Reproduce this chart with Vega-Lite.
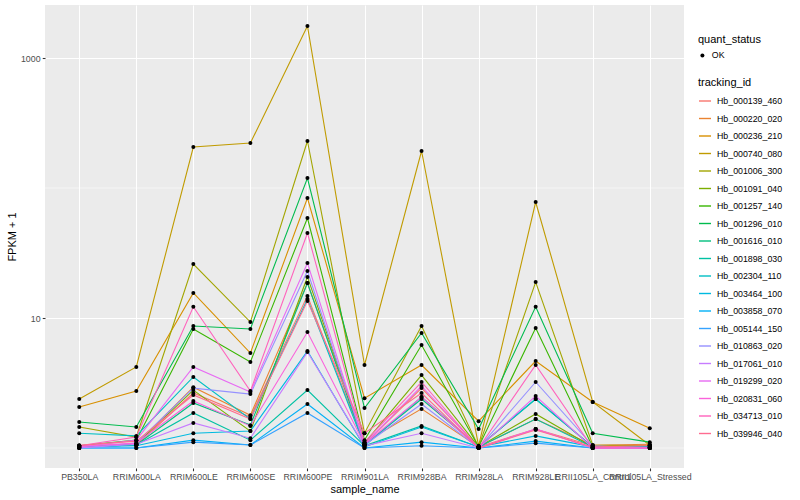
{
  "$schema": "https://vega.github.io/schema/vega-lite/v6.json",
  "width": 639,
  "height": 463,
  "autosize": {"type": "none"},
  "padding": {"left": 45, "top": 5, "right": 116, "bottom": 32},
  "background": "white",
  "datasets": {
    "expr": [
      {"s":"PB350LA","id":"Hb_000139_460","q":"OK","v":1.04},{"s":"RRIM600LA","id":"Hb_000139_460","q":"OK","v":1.05},{"s":"RRIM600LE","id":"Hb_000139_460","q":"OK","v":2.65},{"s":"RRIM600SE","id":"Hb_000139_460","q":"OK","v":1.73},{"s":"RRIM600PE","id":"Hb_000139_460","q":"OK","v":14.8},{"s":"RRIM901LA","id":"Hb_000139_460","q":"OK","v":1.07},{"s":"RRIM928BA","id":"Hb_000139_460","q":"OK","v":2.89},{"s":"RRIM928LA","id":"Hb_000139_460","q":"OK","v":1.02},{"s":"RRIM928LE","id":"Hb_000139_460","q":"OK","v":1.40},{"s":"RRII105LA_Control","id":"Hb_000139_460","q":"OK","v":1.04},{"s":"RRII105LA_Stressed","id":"Hb_000139_460","q":"OK","v":1.05},
      {"s":"PB350LA","id":"Hb_000220_020","q":"OK","v":1.04},{"s":"RRIM600LA","id":"Hb_000220_020","q":"OK","v":1.07},{"s":"RRIM600LE","id":"Hb_000220_020","q":"OK","v":2.94},{"s":"RRIM600SE","id":"Hb_000220_020","q":"OK","v":1.79},{"s":"RRIM600PE","id":"Hb_000220_020","q":"OK","v":18.6},{"s":"RRIM901LA","id":"Hb_000220_020","q":"OK","v":1.11},{"s":"RRIM928BA","id":"Hb_000220_020","q":"OK","v":2.00},{"s":"RRIM928LA","id":"Hb_000220_020","q":"OK","v":1.02},{"s":"RRIM928LE","id":"Hb_000220_020","q":"OK","v":1.67},{"s":"RRII105LA_Control","id":"Hb_000220_020","q":"OK","v":1.05},{"s":"RRII105LA_Stressed","id":"Hb_000220_020","q":"OK","v":1.07},
      {"s":"PB350LA","id":"Hb_000236_210","q":"OK","v":2.07},{"s":"RRIM600LA","id":"Hb_000236_210","q":"OK","v":2.74},{"s":"RRIM600LE","id":"Hb_000236_210","q":"OK","v":15.6},{"s":"RRIM600SE","id":"Hb_000236_210","q":"OK","v":5.38},{"s":"RRIM600PE","id":"Hb_000236_210","q":"OK","v":83.8},{"s":"RRIM901LA","id":"Hb_000236_210","q":"OK","v":2.42},{"s":"RRIM928BA","id":"Hb_000236_210","q":"OK","v":4.35},{"s":"RRIM928LA","id":"Hb_000236_210","q":"OK","v":1.61},{"s":"RRIM928LE","id":"Hb_000236_210","q":"OK","v":4.67},{"s":"RRII105LA_Control","id":"Hb_000236_210","q":"OK","v":2.26},{"s":"RRII105LA_Stressed","id":"Hb_000236_210","q":"OK","v":1.42},
      {"s":"PB350LA","id":"Hb_000740_080","q":"OK","v":2.38},{"s":"RRIM600LA","id":"Hb_000740_080","q":"OK","v":4.20},{"s":"RRIM600LE","id":"Hb_000740_080","q":"OK","v":206.7},{"s":"RRIM600SE","id":"Hb_000740_080","q":"OK","v":221.8},{"s":"RRIM600PE","id":"Hb_000740_080","q":"OK","v":1762},{"s":"RRIM901LA","id":"Hb_000740_080","q":"OK","v":4.35},{"s":"RRIM928BA","id":"Hb_000740_080","q":"OK","v":192.6},{"s":"RRIM928LA","id":"Hb_000740_080","q":"OK","v":1.04},{"s":"RRIM928LE","id":"Hb_000740_080","q":"OK","v":78.0},{"s":"RRII105LA_Control","id":"Hb_000740_080","q":"OK","v":2.26},{"s":"RRII105LA_Stressed","id":"Hb_000740_080","q":"OK","v":1.05},
      {"s":"PB350LA","id":"Hb_001006_300","q":"OK","v":1.45},{"s":"RRIM600LA","id":"Hb_001006_300","q":"OK","v":1.215},{"s":"RRIM600LE","id":"Hb_001006_300","q":"OK","v":26.0},{"s":"RRIM600SE","id":"Hb_001006_300","q":"OK","v":9.31},{"s":"RRIM600PE","id":"Hb_001006_300","q":"OK","v":229.9},{"s":"RRIM901LA","id":"Hb_001006_300","q":"OK","v":1.30},{"s":"RRIM928BA","id":"Hb_001006_300","q":"OK","v":8.68},{"s":"RRIM928LA","id":"Hb_001006_300","q":"OK","v":1.02},{"s":"RRIM928LE","id":"Hb_001006_300","q":"OK","v":18.9},{"s":"RRII105LA_Control","id":"Hb_001006_300","q":"OK","v":1.055},{"s":"RRII105LA_Stressed","id":"Hb_001006_300","q":"OK","v":1.04},
      {"s":"PB350LA","id":"Hb_001091_040","q":"OK","v":1.02},{"s":"RRIM600LA","id":"Hb_001091_040","q":"OK","v":1.07},{"s":"RRIM600LE","id":"Hb_001091_040","q":"OK","v":2.79},{"s":"RRIM600SE","id":"Hb_001091_040","q":"OK","v":1.35},{"s":"RRIM600PE","id":"Hb_001091_040","q":"OK","v":20.7},{"s":"RRIM901LA","id":"Hb_001091_040","q":"OK","v":1.09},{"s":"RRIM928BA","id":"Hb_001091_040","q":"OK","v":3.64},{"s":"RRIM928LA","id":"Hb_001091_040","q":"OK","v":1.02},{"s":"RRIM928LE","id":"Hb_001091_040","q":"OK","v":1.83},{"s":"RRII105LA_Control","id":"Hb_001091_040","q":"OK","v":1.02},{"s":"RRII105LA_Stressed","id":"Hb_001091_040","q":"OK","v":1.02},
      {"s":"PB350LA","id":"Hb_001257_140","q":"OK","v":1.04},{"s":"RRIM600LA","id":"Hb_001257_140","q":"OK","v":1.15},{"s":"RRIM600LE","id":"Hb_001257_140","q":"OK","v":8.23},{"s":"RRIM600SE","id":"Hb_001257_140","q":"OK","v":4.59},{"s":"RRIM600PE","id":"Hb_001257_140","q":"OK","v":58.8},{"s":"RRIM901LA","id":"Hb_001257_140","q":"OK","v":1.15},{"s":"RRIM928BA","id":"Hb_001257_140","q":"OK","v":6.20},{"s":"RRIM928LA","id":"Hb_001257_140","q":"OK","v":1.02},{"s":"RRIM928LE","id":"Hb_001257_140","q":"OK","v":8.38},{"s":"RRII105LA_Control","id":"Hb_001257_140","q":"OK","v":1.02},{"s":"RRII105LA_Stressed","id":"Hb_001257_140","q":"OK","v":1.02},
      {"s":"PB350LA","id":"Hb_001296_010","q":"OK","v":1.585},{"s":"RRIM600LA","id":"Hb_001296_010","q":"OK","v":1.45},{"s":"RRIM600LE","id":"Hb_001296_010","q":"OK","v":8.68},{"s":"RRIM600SE","id":"Hb_001296_010","q":"OK","v":8.23},{"s":"RRIM600PE","id":"Hb_001296_010","q":"OK","v":119.4},{"s":"RRIM901LA","id":"Hb_001296_010","q":"OK","v":2.03},{"s":"RRIM928BA","id":"Hb_001296_010","q":"OK","v":7.67},{"s":"RRIM928LA","id":"Hb_001296_010","q":"OK","v":1.40},{"s":"RRIM928LE","id":"Hb_001296_010","q":"OK","v":12.2},{"s":"RRII105LA_Control","id":"Hb_001296_010","q":"OK","v":1.30},{"s":"RRII105LA_Stressed","id":"Hb_001296_010","q":"OK","v":1.11},
      {"s":"PB350LA","id":"Hb_001616_010","q":"OK","v":1.02},{"s":"RRIM600LA","id":"Hb_001616_010","q":"OK","v":1.055},{"s":"RRIM600LE","id":"Hb_001616_010","q":"OK","v":2.22},{"s":"RRIM600SE","id":"Hb_001616_010","q":"OK","v":1.50},{"s":"RRIM600PE","id":"Hb_001616_010","q":"OK","v":18.6},{"s":"RRIM901LA","id":"Hb_001616_010","q":"OK","v":1.055},{"s":"RRIM928BA","id":"Hb_001616_010","q":"OK","v":2.38},{"s":"RRIM928LA","id":"Hb_001616_010","q":"OK","v":1.02},{"s":"RRIM928LE","id":"Hb_001616_010","q":"OK","v":2.38},{"s":"RRII105LA_Control","id":"Hb_001616_010","q":"OK","v":1.02},{"s":"RRII105LA_Stressed","id":"Hb_001616_010","q":"OK","v":1.02},
      {"s":"PB350LA","id":"Hb_001898_030","q":"OK","v":1.02},{"s":"RRIM600LA","id":"Hb_001898_030","q":"OK","v":1.055},{"s":"RRIM600LE","id":"Hb_001898_030","q":"OK","v":1.86},{"s":"RRIM600SE","id":"Hb_001898_030","q":"OK","v":1.15},{"s":"RRIM600PE","id":"Hb_001898_030","q":"OK","v":2.79},{"s":"RRIM901LA","id":"Hb_001898_030","q":"OK","v":1.04},{"s":"RRIM928BA","id":"Hb_001898_030","q":"OK","v":1.48},{"s":"RRIM928LA","id":"Hb_001898_030","q":"OK","v":1.02},{"s":"RRIM928LE","id":"Hb_001898_030","q":"OK","v":1.67},{"s":"RRII105LA_Control","id":"Hb_001898_030","q":"OK","v":1.02},{"s":"RRII105LA_Stressed","id":"Hb_001898_030","q":"OK","v":1.02},
      {"s":"PB350LA","id":"Hb_002304_110","q":"OK","v":1.30},{"s":"RRIM600LA","id":"Hb_002304_110","q":"OK","v":1.24},{"s":"RRIM600LE","id":"Hb_002304_110","q":"OK","v":3.52},{"s":"RRIM600SE","id":"Hb_002304_110","q":"OK","v":1.67},{"s":"RRIM600PE","id":"Hb_002304_110","q":"OK","v":14.0},{"s":"RRIM901LA","id":"Hb_002304_110","q":"OK","v":1.04},{"s":"RRIM928BA","id":"Hb_002304_110","q":"OK","v":2.47},{"s":"RRIM928LA","id":"Hb_002304_110","q":"OK","v":1.02},{"s":"RRIM928LE","id":"Hb_002304_110","q":"OK","v":2.38},{"s":"RRII105LA_Control","id":"Hb_002304_110","q":"OK","v":1.02},{"s":"RRII105LA_Stressed","id":"Hb_002304_110","q":"OK","v":1.02},
      {"s":"PB350LA","id":"Hb_003464_100","q":"OK","v":1.02},{"s":"RRIM600LA","id":"Hb_003464_100","q":"OK","v":1.04},{"s":"RRIM600LE","id":"Hb_003464_100","q":"OK","v":1.30},{"s":"RRIM600SE","id":"Hb_003464_100","q":"OK","v":1.35},{"s":"RRIM600PE","id":"Hb_003464_100","q":"OK","v":5.57},{"s":"RRIM901LA","id":"Hb_003464_100","q":"OK","v":1.02},{"s":"RRIM928BA","id":"Hb_003464_100","q":"OK","v":1.45},{"s":"RRIM928LA","id":"Hb_003464_100","q":"OK","v":1.02},{"s":"RRIM928LE","id":"Hb_003464_100","q":"OK","v":1.24},{"s":"RRII105LA_Control","id":"Hb_003464_100","q":"OK","v":1.02},{"s":"RRII105LA_Stressed","id":"Hb_003464_100","q":"OK","v":1.02},
      {"s":"PB350LA","id":"Hb_003858_070","q":"OK","v":1.0},{"s":"RRIM600LA","id":"Hb_003858_070","q":"OK","v":1.0},{"s":"RRIM600LE","id":"Hb_003858_070","q":"OK","v":1.15},{"s":"RRIM600SE","id":"Hb_003858_070","q":"OK","v":1.055},{"s":"RRIM600PE","id":"Hb_003858_070","q":"OK","v":2.18},{"s":"RRIM901LA","id":"Hb_003858_070","q":"OK","v":1.0},{"s":"RRIM928BA","id":"Hb_003858_070","q":"OK","v":1.11},{"s":"RRIM928LA","id":"Hb_003858_070","q":"OK","v":1.0},{"s":"RRIM928LE","id":"Hb_003858_070","q":"OK","v":1.13},{"s":"RRII105LA_Control","id":"Hb_003858_070","q":"OK","v":1.0},{"s":"RRII105LA_Stressed","id":"Hb_003858_070","q":"OK","v":1.0},
      {"s":"PB350LA","id":"Hb_005144_150","q":"OK","v":1.0},{"s":"RRIM600LA","id":"Hb_005144_150","q":"OK","v":1.0},{"s":"RRIM600LE","id":"Hb_005144_150","q":"OK","v":1.11},{"s":"RRIM600SE","id":"Hb_005144_150","q":"OK","v":1.055},{"s":"RRIM600PE","id":"Hb_005144_150","q":"OK","v":1.86},{"s":"RRIM901LA","id":"Hb_005144_150","q":"OK","v":1.0},{"s":"RRIM928BA","id":"Hb_005144_150","q":"OK","v":1.04},{"s":"RRIM928LA","id":"Hb_005144_150","q":"OK","v":1.0},{"s":"RRIM928LE","id":"Hb_005144_150","q":"OK","v":1.09},{"s":"RRII105LA_Control","id":"Hb_005144_150","q":"OK","v":1.0},{"s":"RRII105LA_Stressed","id":"Hb_005144_150","q":"OK","v":1.0},
      {"s":"PB350LA","id":"Hb_010863_020","q":"OK","v":1.0},{"s":"RRIM600LA","id":"Hb_010863_020","q":"OK","v":1.09},{"s":"RRIM600LE","id":"Hb_010863_020","q":"OK","v":2.89},{"s":"RRIM600SE","id":"Hb_010863_020","q":"OK","v":2.60},{"s":"RRIM600PE","id":"Hb_010863_020","q":"OK","v":23.0},{"s":"RRIM901LA","id":"Hb_010863_020","q":"OK","v":1.055},{"s":"RRIM928BA","id":"Hb_010863_020","q":"OK","v":2.18},{"s":"RRIM928LA","id":"Hb_010863_020","q":"OK","v":1.0},{"s":"RRIM928LE","id":"Hb_010863_020","q":"OK","v":3.22},{"s":"RRII105LA_Control","id":"Hb_010863_020","q":"OK","v":1.04},{"s":"RRII105LA_Stressed","id":"Hb_010863_020","q":"OK","v":1.0},
      {"s":"PB350LA","id":"Hb_017061_010","q":"OK","v":1.0},{"s":"RRIM600LA","id":"Hb_017061_010","q":"OK","v":1.07},{"s":"RRIM600LE","id":"Hb_017061_010","q":"OK","v":1.56},{"s":"RRIM600SE","id":"Hb_017061_010","q":"OK","v":1.19},{"s":"RRIM600PE","id":"Hb_017061_010","q":"OK","v":5.47},{"s":"RRIM901LA","id":"Hb_017061_010","q":"OK","v":1.04},{"s":"RRIM928BA","id":"Hb_017061_010","q":"OK","v":1.30},{"s":"RRIM928LA","id":"Hb_017061_010","q":"OK","v":1.0},{"s":"RRIM928LE","id":"Hb_017061_010","q":"OK","v":1.40},{"s":"RRII105LA_Control","id":"Hb_017061_010","q":"OK","v":1.0},{"s":"RRII105LA_Stressed","id":"Hb_017061_010","q":"OK","v":1.0},
      {"s":"PB350LA","id":"Hb_019299_020","q":"OK","v":1.02},{"s":"RRIM600LA","id":"Hb_019299_020","q":"OK","v":1.15},{"s":"RRIM600LE","id":"Hb_019299_020","q":"OK","v":4.20},{"s":"RRIM600SE","id":"Hb_019299_020","q":"OK","v":2.70},{"s":"RRIM600PE","id":"Hb_019299_020","q":"OK","v":26.5},{"s":"RRIM901LA","id":"Hb_019299_020","q":"OK","v":1.07},{"s":"RRIM928BA","id":"Hb_019299_020","q":"OK","v":3.00},{"s":"RRIM928LA","id":"Hb_019299_020","q":"OK","v":1.0},{"s":"RRIM928LE","id":"Hb_019299_020","q":"OK","v":2.51},{"s":"RRII105LA_Control","id":"Hb_019299_020","q":"OK","v":1.0},{"s":"RRII105LA_Stressed","id":"Hb_019299_020","q":"OK","v":1.0},
      {"s":"PB350LA","id":"Hb_020831_060","q":"OK","v":1.03},{"s":"RRIM600LA","id":"Hb_020831_060","q":"OK","v":1.09},{"s":"RRIM600LE","id":"Hb_020831_060","q":"OK","v":2.30},{"s":"RRIM600SE","id":"Hb_020831_060","q":"OK","v":1.48},{"s":"RRIM600PE","id":"Hb_020831_060","q":"OK","v":7.80},{"s":"RRIM901LA","id":"Hb_020831_060","q":"OK","v":1.07},{"s":"RRIM928BA","id":"Hb_020831_060","q":"OK","v":2.47},{"s":"RRIM928LA","id":"Hb_020831_060","q":"OK","v":1.0},{"s":"RRIM928LE","id":"Hb_020831_060","q":"OK","v":1.40},{"s":"RRII105LA_Control","id":"Hb_020831_060","q":"OK","v":1.0},{"s":"RRII105LA_Stressed","id":"Hb_020831_060","q":"OK","v":1.0},
      {"s":"PB350LA","id":"Hb_034713_010","q":"OK","v":1.04},{"s":"RRIM600LA","id":"Hb_034713_010","q":"OK","v":1.215},{"s":"RRIM600LE","id":"Hb_034713_010","q":"OK","v":12.2},{"s":"RRIM600SE","id":"Hb_034713_010","q":"OK","v":2.74},{"s":"RRIM600PE","id":"Hb_034713_010","q":"OK","v":45.1},{"s":"RRIM901LA","id":"Hb_034713_010","q":"OK","v":1.11},{"s":"RRIM928BA","id":"Hb_034713_010","q":"OK","v":3.22},{"s":"RRIM928LA","id":"Hb_034713_010","q":"OK","v":1.0},{"s":"RRIM928LE","id":"Hb_034713_010","q":"OK","v":4.35},{"s":"RRII105LA_Control","id":"Hb_034713_010","q":"OK","v":1.0},{"s":"RRII105LA_Stressed","id":"Hb_034713_010","q":"OK","v":1.0},
      {"s":"PB350LA","id":"Hb_039946_040","q":"OK","v":1.05},{"s":"RRIM600LA","id":"Hb_039946_040","q":"OK","v":1.13},{"s":"RRIM600LE","id":"Hb_039946_040","q":"OK","v":2.56},{"s":"RRIM600SE","id":"Hb_039946_040","q":"OK","v":1.67},{"s":"RRIM600PE","id":"Hb_039946_040","q":"OK","v":13.5},{"s":"RRIM901LA","id":"Hb_039946_040","q":"OK","v":1.30},{"s":"RRIM928BA","id":"Hb_039946_040","q":"OK","v":2.65},{"s":"RRIM928LA","id":"Hb_039946_040","q":"OK","v":1.0},{"s":"RRIM928LE","id":"Hb_039946_040","q":"OK","v":1.375},{"s":"RRII105LA_Control","id":"Hb_039946_040","q":"OK","v":1.02},{"s":"RRII105LA_Stressed","id":"Hb_039946_040","q":"OK","v":1.04}
    ],
    "minor": [{"g": 1}, {"g": 100}]
  },
  "layer": [
    {
      "data": {"name": "minor"},
      "mark": {"type": "rule", "color": "white", "strokeWidth": 0.53},
      "encoding": {
        "y": {"field": "g", "type": "quantitative",
              "scale": {"type": "log", "domain": [0.702, 2557], "nice": false, "zero": false},
              "axis": {"title": "FPKM + 1", "values": [10, 1000], "format": "d"}}
      }
    },
    {
      "data": {"name": "expr"},
      "mark": {"type": "line", "strokeWidth": 1.1},
      "encoding": {
        "x": {"field": "s", "type": "nominal",
              "sort": ["PB350LA","RRIM600LA","RRIM600LE","RRIM600SE","RRIM600PE","RRIM901LA","RRIM928BA","RRIM928LA","RRIM928LE","RRII105LA_Control","RRII105LA_Stressed"],
              "scale": {"type": "point", "padding": 0.6},
              "axis": {"title": "sample_name", "labelAngle": 0, "labelOverlap": false, "titlePadding": 1.5}},
        "y": {"field": "v", "type": "quantitative",
              "scale": {"type": "log", "domain": [0.702, 2557], "nice": false, "zero": false},
              "axis": {"title": "FPKM + 1", "values": [10, 1000], "format": "d"}},
        "color": {"field": "id", "type": "nominal",
                  "scale": {"domain": ["Hb_000139_460","Hb_000220_020","Hb_000236_210","Hb_000740_080","Hb_001006_300","Hb_001091_040","Hb_001257_140","Hb_001296_010","Hb_001616_010","Hb_001898_030","Hb_002304_110","Hb_003464_100","Hb_003858_070","Hb_005144_150","Hb_010863_020","Hb_017061_010","Hb_019299_020","Hb_020831_060","Hb_034713_010","Hb_039946_040"],
                            "range": ["#F8766D","#EA8331","#D89000","#C09B00","#A3A500","#7CAE00","#39B600","#00BB4E","#00BF7D","#00C1A3","#00BFC4","#00BAE0","#00B0F6","#35A2FF","#9590FF","#C77CFF","#E76BF3","#FA62DB","#FF62BC","#FF6C91"]},
                  "legend": {"title": "tracking_id", "orient": "none", "legendX": 653, "legendY": 72, "symbolType": "stroke", "symbolSize": 144, "symbolStrokeWidth": 1.4}},
        "detail": {"field": "id"}
      }
    },
    {
      "data": {"name": "expr"},
      "mark": {"type": "point", "filled": true, "color": "black", "size": 16, "opacity": 1},
      "encoding": {
        "x": {"field": "s", "type": "nominal",
              "sort": ["PB350LA","RRIM600LA","RRIM600LE","RRIM600SE","RRIM600PE","RRIM901LA","RRIM928BA","RRIM928LA","RRIM928LE","RRII105LA_Control","RRII105LA_Stressed"],
              "scale": {"type": "point", "padding": 0.6},
              "axis": {"title": "sample_name", "labelAngle": 0, "labelOverlap": false, "titlePadding": 1.5}},
        "y": {"field": "v", "type": "quantitative",
              "scale": {"type": "log", "domain": [0.702, 2557], "nice": false, "zero": false},
              "axis": {"title": "FPKM + 1", "values": [10, 1000], "format": "d"}},
        "shape": {"field": "q", "type": "nominal", "scale": {"range": ["circle"]},
                  "legend": {"title": "quant_status", "orient": "none", "legendX": 653, "legendY": 29, "symbolFillColor": "black", "symbolStrokeColor": "black", "symbolSize": 16}}
      }
    }
  ],
  "config": {
    "font": "Liberation Sans",
    "view": {"fill": "#EBEBEB", "stroke": null},
    "axis": {
      "domain": false, "grid": true, "gridColor": "white", "gridWidth": 1.07,
      "tickColor": "#333333", "tickSize": 2.75, "tickWidth": 1.07,
      "labelColor": "#4D4D4D", "labelFontSize": 8.8, "labelPadding": 2.2,
      "titleFontSize": 11, "titleFontWeight": "normal", "titleColor": "black", "titlePadding": 3
    },
    "legend": {
      "titleFontSize": 11, "titleFontWeight": "normal", "titleColor": "black",
      "labelFontSize": 8.8, "labelColor": "black", "padding": 0, "rowPadding": 5.5,
      "labelOffset": 5, "titlePadding": 6
    }
  }
}
